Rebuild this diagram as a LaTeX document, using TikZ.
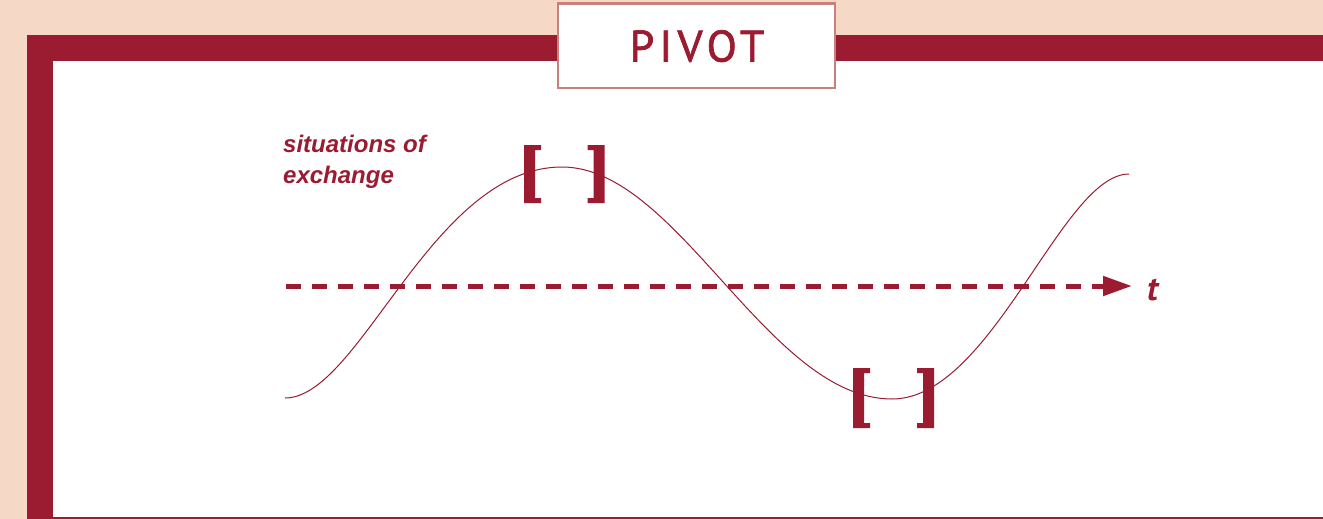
\documentclass[tikz,border=0pt]{standalone}
\usepackage{fontspec}
\setmainfont{PT Sans}
\newfontfamily\titlefont[LetterSpace=12,FakeBold=1.6]{PT Sans}
\newfontfamily\labelfont{Liberation Sans}
\usetikzlibrary{arrows.meta}
\definecolor{wine}{HTML}{9B1B31}
\definecolor{peach}{HTML}{F5D8C6}
\definecolor{rose}{HTML}{C8807C}
\begin{document}
\begin{tikzpicture}[x=1pt,y=-1pt,
  brk/.style={fill=wine},
  lbl/.style={anchor=base west, inner sep=0, text=wine, font=\labelfont\fontsize{24}{31}\selectfont\bfseries\itshape}]
\useasboundingbox (0,0) rectangle (1323,519);
% background and frame
\fill[peach] (0,0) rectangle (1323,519);
\fill[wine] (27,35) rectangle (1323,519);
\fill[white] (53,61) rectangle (1323,517);
% title
\node[draw=rose, line width=2.5pt, fill=white, minimum width=277pt, minimum height=84.5pt, inner sep=0] (title) at (696.25,45.75) {};
\node[anchor=base, inner sep=0, text=wine, font=\titlefont\fontsize{44}{44}\selectfont] (titletext) at (697,61.5) {PIVOT};
% labels
\node[lbl] (sit1) at (283,152.3) {situations of};
\node[lbl] (sit2) at (283,183.3) {exchange};
% wave
\draw[wine, line width=1pt] (285,398) .. controls (360,398) and (432,167) .. (562,167)
  .. controls (678,167) and (768,399) .. (892,399)
  .. controls (992,399) and (1062,174) .. (1129,174);
% time axis
\coordinate (axs) at (286,286);
\coordinate (axe) at (1132,286);
\draw[wine, line width=5pt, dash pattern=on 15pt off 11pt, -{Triangle[length=29pt,width=19pt]}] (axs) -- (axe);
\node[anchor=base west, inner sep=0, text=wine, font=\fontsize{34}{34}\selectfont\bfseries\itshape] (tlabel) at (1147,300.5) {t};
% brackets
\fill[brk] (524,145) -- (541,145) -- (541,150) -- (535,150) -- (535,198) -- (541,198) -- (541,203) -- (524,203) -- cycle;
\fill[brk] (604.5,145) -- (587.5,145) -- (587.5,150) -- (593.5,150) -- (593.5,198) -- (587.5,198) -- (587.5,203) -- (604.5,203) -- cycle;
\fill[brk] (853,368) -- (870,368) -- (870,373) -- (864,373) -- (864,423) -- (870,423) -- (870,428) -- (853,428) -- cycle;
\fill[brk] (934,368) -- (917,368) -- (917,373) -- (923,373) -- (923,423) -- (917,423) -- (917,428) -- (934,428) -- cycle;
\end{tikzpicture}
\end{document}
